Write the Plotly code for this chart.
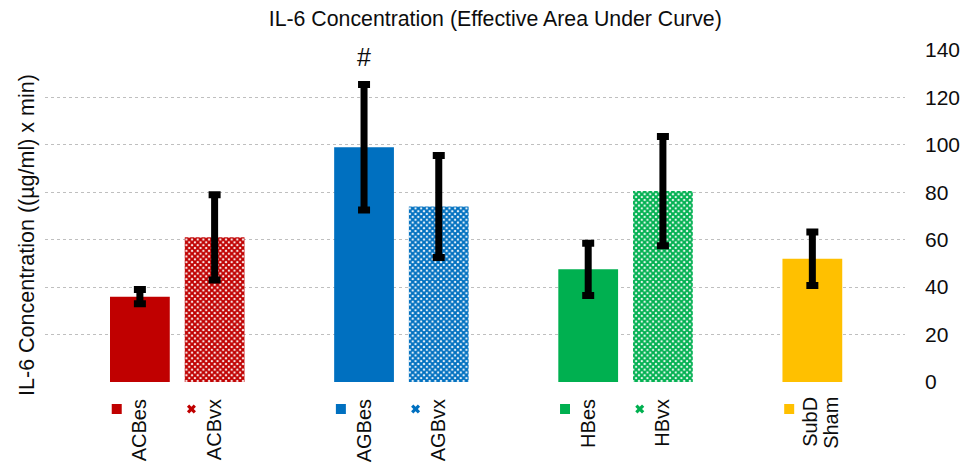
import plotly.graph_objects as go

# ---- data ----
labels = ["ACBes", "ACBvx", "AGBes", "AGBvx", "HBes", "HBvx", "SubD<br>Sham"]
group_index = [0, 0, 1, 1, 2, 2, 3]
member_index = [0, 1, 0, 1, 0, 1, 0]
means = [36, 61, 99, 74, 47.5, 80.5, 52]
errors = [3, 18, 26.5, 21.5, 11, 23, 11.3]
colors = ["#C00000", "#C00000", "#0070C0", "#0070C0", "#00B050", "#00B050", "#FFC000"]
patterned = [False, True, False, True, False, True, False]
y_ticks = [0, 20, 40, 60, 80, 100, 120, 140]
title_text = "IL-6 Concentration (Effective Area Under Curve)"
y_title = "IL-6 Concentration ((µg/ml) x min)"
marked_label = "AGBes"
mark_text = "#"

FONT = "Arial, 'Liberation Sans', Helvetica, sans-serif"
TXT = "#0d0d0d"

H, W = 463, 973
TOP, AXIS_Y = 50, 382          # pixel rows of the plot top and of the zero line
plot_h = H - TOP
main_bottom = (H - AXIS_Y) / plot_h

# slot positions: each group takes 3 slots (2 members + 1 gap)
xpos = [g * 3 + m for g, m in zip(group_index, member_index)]

fig = go.Figure()
for x, m, e, c, p in zip(xpos, means, errors, colors, patterned):
    if p:
        marker = dict(color=c, line=dict(width=0),
                      pattern=dict(shape="x", fgcolor=c, bgcolor="white",
                                   size=4, solidity=0.75, fillmode="replace"))
    else:
        marker = dict(color=c, line=dict(width=0))
    fig.add_trace(go.Bar(
        x=[x], y=[m], width=0.8, marker=marker,
        error_y=dict(type="data", array=[e], visible=True,
                     color="black", thickness=7, width=6),
        hoverinfo="skip", showlegend=False,
    ))

# legend keys beside the category labels (in a strip under the plot)
key_dx = -0.31
key_row = 54   # strip units (px above the bottom edge)
fig.add_trace(go.Scatter(
    x=[p + key_dx for p in xpos], y=[key_row] * len(xpos), mode="markers",
    xaxis="x", yaxis="y2",
    marker=dict(symbol=["x" if p else "square" for p in patterned],
                size=[8 if p else 10 for p in patterned],
                color=colors, opacity=1, line=dict(width=0)),
    hoverinfo="skip", showlegend=False,
))

# multi-line category labels drawn line by line (tighter line pitch)
tick_text = []
for x, lab in zip(xpos, labels):
    parts = lab.split("<br>")
    if len(parts) == 1:
        tick_text.append(lab)
        continue
    tick_text.append("")
    pitch = 21
    block_shift = 8
    n = len(parts)
    for i, part in enumerate(parts):
        fig.add_annotation(
            x=x, y=(H - 395) / plot_h, xref="x", yref="paper",
            text=part, textangle=-90, showarrow=False,
            xanchor="center", yanchor="top",
            xshift=block_shift + (i - (n - 1) / 2) * pitch,
            font=dict(family=FONT, size=20, color=TXT))

mi = labels.index(marked_label)
fig.add_annotation(x=xpos[mi], y=means[mi] + errors[mi], text=mark_text,
                   showarrow=False, yanchor="middle", yshift=27,
                   font=dict(family=FONT, size=25, color=TXT))

fig.add_annotation(xref="paper", yref="paper", x=-0.021,
                   y=main_bottom + (AXIS_Y - 235) / plot_h,
                   text=y_title, textangle=-90, showarrow=False,
                   xanchor="center", yanchor="middle",
                   font=dict(family=FONT, size=21.5, color=TXT))

fig.update_layout(
    width=W, height=H,
    margin=dict(l=45, r=68, t=TOP, b=0),
    paper_bgcolor="white", plot_bgcolor="white",
    font=dict(family=FONT, size=21, color=TXT),
    barmode="overlay",
    title=dict(text=title_text, x=0.509, xref="container", xanchor="center",
               y=0.961, yref="container", yanchor="middle",
               font=dict(family=FONT, size=21.3, color=TXT)),
    xaxis=dict(range=[-1.27, 10.24], tickvals=xpos, ticktext=tick_text,
               anchor="y",
               tickangle=-90, showgrid=False, zeroline=False, showline=False,
               ticks="", ticklabelstandoff=12, automargin=False,
               tickfont=dict(family=FONT, size=20, color=TXT)),
    yaxis=dict(range=[0, 140], tickvals=y_ticks, side="right",
               domain=[main_bottom, 1],
               showgrid=True, gridcolor="#BFBFBF", griddash="dot", gridwidth=1,
               zeroline=False, showline=False, ticks="",
               ticklabelstandoff=19, automargin=False,
               tickfont=dict(family=FONT, size=21, color=TXT)),
    yaxis2=dict(range=[0, H - AXIS_Y], domain=[0, main_bottom], anchor="x",
                visible=False, fixedrange=True),
)

fig.write_html("out.html")
